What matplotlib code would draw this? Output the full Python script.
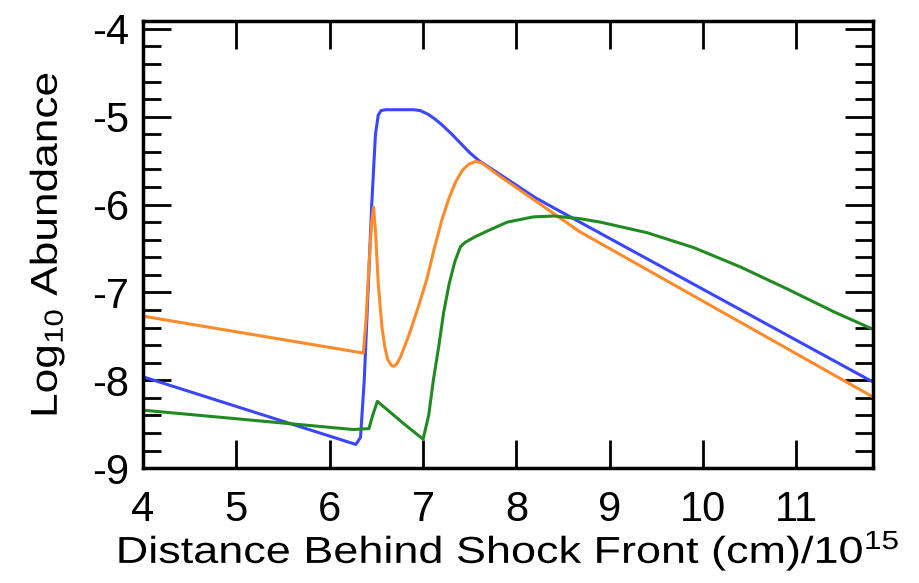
import numpy as np
import matplotlib
matplotlib.use("Agg")
import matplotlib.pyplot as plt
from matplotlib.ticker import MultipleLocator
from matplotlib.patheffects import AbstractPathEffect
from matplotlib.transforms import Affine2D

plt.rcParams['font.family'] = ['Liberation Sans', 'DejaVu Sans']
plt.rcParams['mathtext.fontset'] = 'custom'
plt.rcParams['mathtext.rm'] = 'Liberation Sans'
plt.rcParams['mathtext.it'] = 'Liberation Sans'
plt.rcParams['axes.unicode_minus'] = False

# blue curve
blue_x = [4.0, 6.28, 6.33, 6.37, 6.41, 6.45, 6.49, 6.52, 6.55, 6.6, 6.9, 6.97,
          7.05, 7.12, 7.2, 7.3, 7.4, 7.5, 7.6, 7.7, 7.8, 8.2, 8.68, 11.82]
blue_y = [-7.96, -8.73, -8.65, -8.0, -7.0, -6.0, -5.2, -4.98, -4.93, -4.92, -4.92, -4.93,
          -4.97, -5.02, -5.09, -5.19, -5.3, -5.41, -5.5, -5.57, -5.64, -5.92, -6.2, -8.02]

# orange curve
orange_x = [4.0, 6.36, 6.39, 6.42, 6.45, 6.47, 6.49, 6.52, 6.56, 6.59, 6.62, 6.66,
            6.69, 6.72, 6.76, 6.8, 6.86, 6.95, 7.04, 7.12, 7.2, 7.28, 7.35, 7.42,
            7.49, 7.56, 7.62, 7.7, 7.8, 8.18, 8.68, 11.82]
orange_y = [-7.27, -7.69, -7.3, -6.7, -6.2, -6.03, -6.3, -6.9, -7.4, -7.62, -7.76, -7.83,
            -7.84, -7.81, -7.73, -7.62, -7.45, -7.16, -6.85, -6.5, -6.18, -5.92, -5.74, -5.61,
            -5.54, -5.51, -5.52, -5.58, -5.66, -5.94, -6.31, -8.19]

# green curve
green_x = [4.0, 6.25, 6.42, 6.46, 6.51, 6.6, 6.8, 7.0, 7.06, 7.11, 7.17, 7.22,
           7.28, 7.34, 7.4, 7.45, 7.55, 7.69, 7.9, 8.18, 8.4, 8.68, 8.9, 9.4,
           9.9, 10.4, 10.9, 11.4, 11.82]
green_y = [-8.34, -8.56, -8.55, -8.4, -8.24, -8.32, -8.5, -8.67, -8.4, -8.0, -7.6, -7.23,
           -6.9, -6.65, -6.48, -6.43, -6.37, -6.3, -6.2, -6.14, -6.13, -6.16, -6.2, -6.32,
           -6.49, -6.71, -6.96, -7.22, -7.42]

xticks = [4, 5, 6, 7, 8, 9, 10, 11]
yticks = [-9, -8, -7, -6, -5, -4]


class Stretch(AbstractPathEffect):
    # widen text along its own direction, about its centre
    def __init__(self, sx):
        super().__init__()
        self.sx = sx

    def draw_path(self, renderer, gc, tpath, affine, rgbFace=None):
        ext = tpath.get_extents()
        cx = (ext.x0 + ext.x1) / 2
        t = Affine2D().translate(-cx, 0).scale(self.sx, 1).translate(cx, 0) + affine
        renderer.draw_path(gc, tpath, t, rgbFace)


fig = plt.figure(figsize=(9.19, 5.83), dpi=100)
ax = fig.add_axes([0.1556, 0.197, 0.7944, 0.767])

ax.plot(blue_x, blue_y, color='#3a46ff', lw=2.2)
ax.plot(orange_x, orange_y, color='#ff8a2a', lw=2.2)
ax.plot(green_x, green_y, color='#228a22', lw=2.2)

ax.set_xlim(4, 11.82)
ax.set_ylim(-9, -3.91)
ax.set_xticks(xticks)
ax.set_yticks(yticks)
ax.yaxis.set_minor_locator(MultipleLocator(0.2))

ax.tick_params(axis='both', which='major', direction='in', length=20, width=2,
               labelsize=30, pad=10)
ax.tick_params(axis='x', top=True, pad=16)
ax.tick_params(axis='y', right=True)
ax.tick_params(axis='y', which='minor', direction='in', length=13, width=2, right=True)
for s in ax.spines.values():
    s.set_linewidth(2.5)

xl = ax.set_xlabel('Distance Behind Shock Front (cm)/$\\mathregular{10^{15}}$', fontsize=27, labelpad=-2)
yl = ax.set_ylabel('Log$_{\\mathregular{10}}$ Abundance', fontsize=27, labelpad=18)
xl.set_path_effects([Stretch(1.2)])
yl.set_path_effects([Stretch(1.18)])

fig.savefig('out.png', dpi=100)
